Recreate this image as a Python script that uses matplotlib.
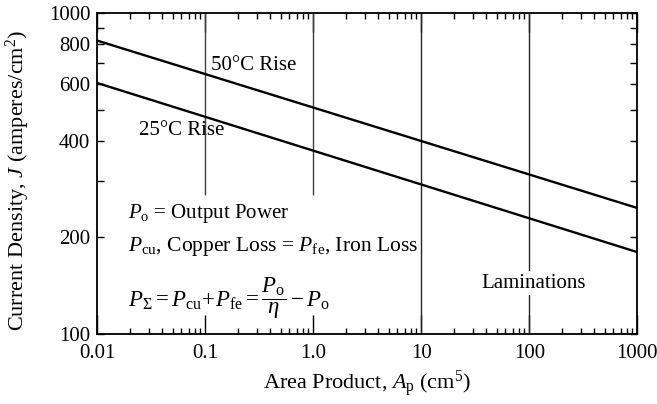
import matplotlib
matplotlib.use("Agg")
import matplotlib.pyplot as plt
from matplotlib.ticker import FixedLocator, NullFormatter, FixedFormatter

plt.rcParams['font.family'] = ['Liberation Serif', 'DejaVu Serif']
plt.rcParams['mathtext.fontset'] = 'custom'
plt.rcParams['mathtext.rm'] = 'Liberation Serif'
plt.rcParams['mathtext.it'] = 'Liberation Serif:italic'
plt.rcParams['mathtext.bf'] = 'Liberation Serif:bold'

# Data
area_product = [0.01, 1000]
j_50c = [820, 247]
j_25c = [605, 180]

x_ticks = [0.01, 0.1, 1.0, 10, 100, 1000]
x_tick_labels = ["0.01", "0.1", "1.0", "10", "100", "1000"]
y_ticks = [100, 200, 400, 600, 800, 1000]
y_tick_labels = ["100", "200", "400", "600", "800", "1000"]
y_minor = [300, 500, 700, 900]

fig = plt.figure(figsize=(6.57, 4.04), dpi=100)
ax = fig.add_axes([0.148, 0.173, 0.822, 0.795])
ax.set_xscale('log')
ax.set_yscale('log')
ax.set_xlim(0.01, 1000)
ax.set_ylim(100, 1000)

# vertical reference lines
ax.vlines([0.1, 1.0], 271, 1000, colors='0.25', lw=1.0)
ax.vlines([10, 100], 100, 1000, colors='0.15', lw=1.0)

ax.plot(area_product, j_50c, color='black', lw=1.7)
ax.plot(area_product, j_25c, color='black', lw=1.7)

fs = 15
ax.text(0.112, 688, "50°C Rise", fontsize=fs, va='center', ha='left')
ax.text(0.0245, 432, "25°C Rise", fontsize=fs, va='center', ha='left')
ax.text(0.0194, 238, r"$P_\mathrm{o}$ = Output Power", fontsize=fs, va='center', ha='left')
ax.text(0.0194, 187, r"$P_\mathrm{cu}$, Copper Loss = $P_\mathrm{fe}$, Iron Loss", fontsize=15.5, va='center', ha='left')
ax.text(0.0194, 129, r"$P_\Sigma = P_\mathrm{cu}\!+\!P_\mathrm{fe} = \dfrac{P_\mathrm{o}}{\eta} - P_\mathrm{o}$",
        fontsize=16.5, va='center', ha='left')
ax.text(110, 144, "Laminations", fontsize=fs, va='center', ha='center',
        bbox=dict(facecolor='white', edgecolor='none', pad=2))

ax.xaxis.set_major_locator(FixedLocator(x_ticks))
ax.xaxis.set_major_formatter(FixedFormatter(x_tick_labels))
ax.xaxis.set_minor_formatter(NullFormatter())
ax.yaxis.set_major_locator(FixedLocator(y_ticks))
ax.yaxis.set_major_formatter(FixedFormatter(y_tick_labels))
ax.yaxis.set_minor_locator(FixedLocator(y_minor))
ax.yaxis.set_minor_formatter(NullFormatter())

ax.tick_params(axis='both', which='both', direction='in', top=True, right=True, labelsize=15, width=1.0)
ax.tick_params(axis='x', which='major', length=14, pad=7)
ax.tick_params(axis='x', which='minor', length=4)
ax.tick_params(axis='y', which='both', length=5, pad=5)
for s in ax.spines.values():
    s.set_linewidth(1.3)

ax.set_xlabel(r"Area Product, $A_\mathrm{p}$ (cm$^5$)", fontsize=16, labelpad=4)
ax.set_ylabel(r"Current Density, $J$ (amperes/cm$^2$)", fontsize=16)
ax.yaxis.set_label_coords(-0.12, 0.48)

fig.savefig("out.png", dpi=100)
